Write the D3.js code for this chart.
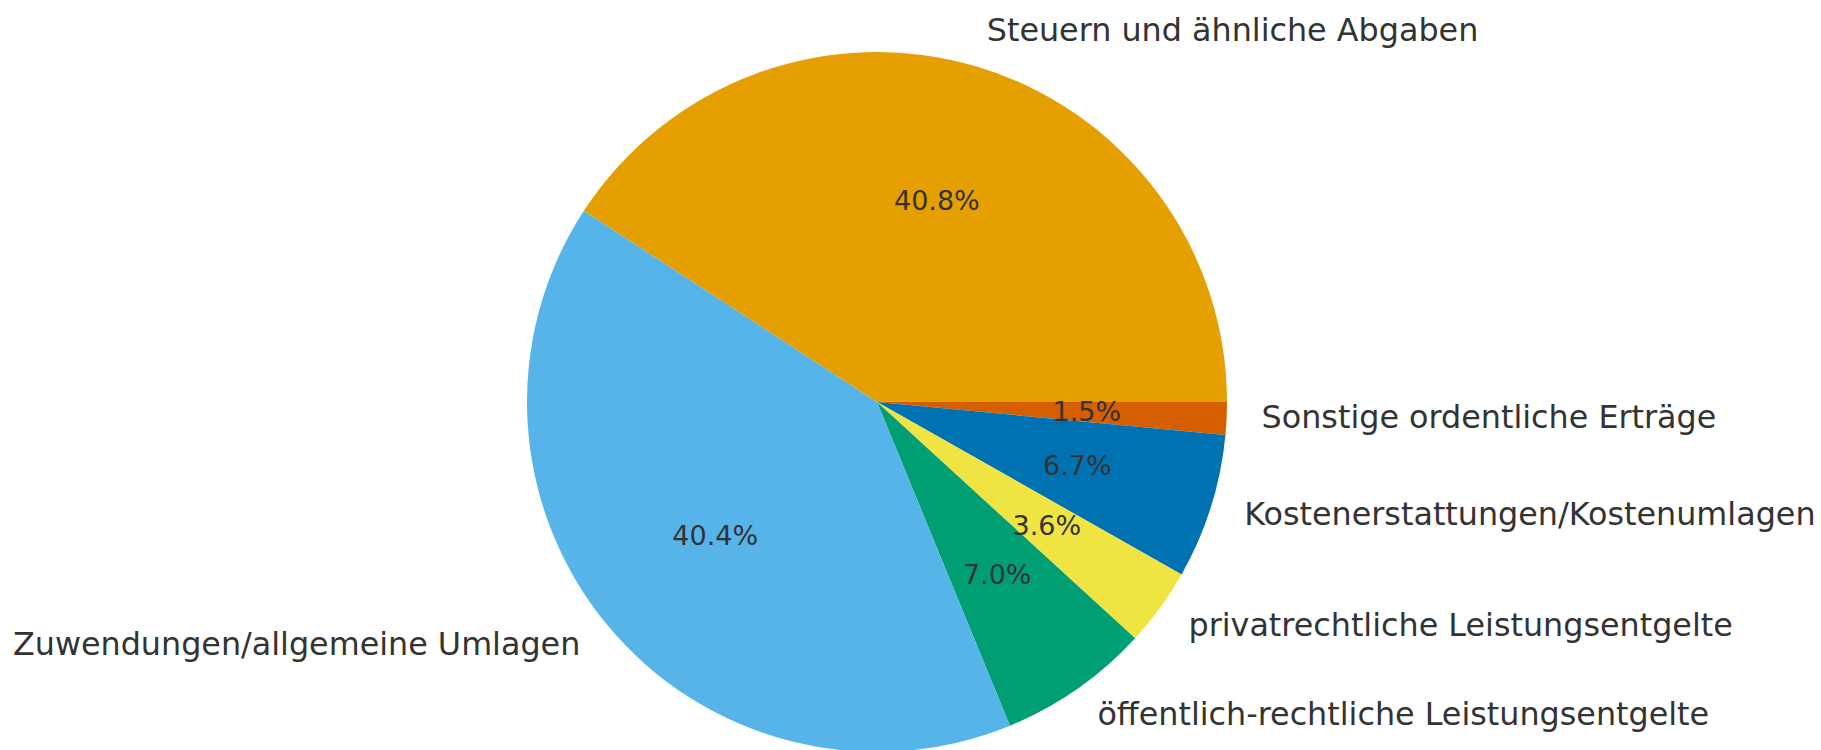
<!DOCTYPE html>
<html><head>
<meta charset="utf-8">
<script src="https://d3js.org/d3.v7.min.js"></script>
<style>
  body { margin: 0; background: #fff; }
  text { font-family: "DejaVu Sans", sans-serif; fill: #333; }
</style>
</head>
<body>
<svg id="pie" width="1821" height="750"></svg>
<script>
  // slices, clockwise from 3 o'clock (matplotlib counterclock=False)
  const categories = ["Sonstige ordentliche Erträge", "Kostenerstattungen/Kostenumlagen",
                      "privatrechtliche Leistungsentgelte", "öffentlich-rechtliche Leistungsentgelte",
                      "Zuwendungen/allgemeine Umlagen", "Steuern und ähnliche Abgaben"];
  const shares = [1.5, 6.7, 3.6, 7.0, 40.4, 40.8];
  const colors = ["#D55E00", "#0072B2", "#F0E442", "#009E73", "#56B4E9", "#E69F00"];

  const svg = d3.select("svg#pie");
  const cx = 877, cy = 402, radius = 350;

  let g = svg.append("g").attr("transform", "translate(" + cx + "," + cy + ")");

  const pie = d3.pie().sort(null).value(d => d)
                .startAngle(Math.PI / 2).endAngle(Math.PI / 2 + 2 * Math.PI);
  const arcs = pie(shares);

  const arc = d3.arc().innerRadius(0).outerRadius(radius);
  const pctArc = d3.arc().innerRadius(radius * 0.6).outerRadius(radius * 0.6);
  const labelArc = d3.arc().innerRadius(radius * 1.1).outerRadius(radius * 1.1);

  g.selectAll("path.slice")
    .data(arcs)
    .join("path")
      .attr("class", "slice")
      .attr("d", arc)
      .attr("fill", (d, i) => colors[i]);

  // percentages inside
  g.selectAll("text.pct")
    .data(arcs)
    .join("text")
      .attr("class", "pct")
      .attr("transform", d => "translate(" + pctArc.centroid(d) + ")")
      .attr("text-anchor", "middle")
      .attr("dominant-baseline", "central")
      .style("font-size", "27px")
      .text(d => d.data.toFixed(1) + "%");

  // category labels outside
  g.selectAll("text.label")
    .data(arcs)
    .join("text")
      .attr("class", "label")
      .attr("transform", d => "translate(" + labelArc.centroid(d) + ")")
      .attr("text-anchor", d => labelArc.centroid(d)[0] > 0 ? "start" : "end")
      .attr("dominant-baseline", "central")
      .attr("dy", "-0.12em")
      .style("font-size", "31.8px")
      .text((d, i) => categories[i]);
</script>
</body>
</html>
